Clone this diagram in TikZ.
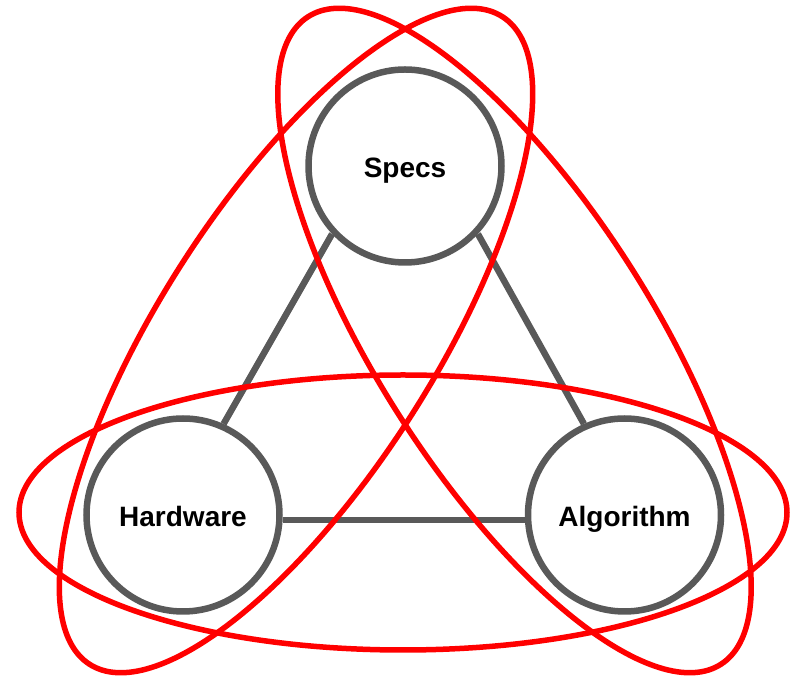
\documentclass[tikz,border=0pt]{standalone}
\usepackage{fontspec}
\setmainfont{Liberation Sans}
\definecolor{edgegray}{RGB}{89,89,89}
\begin{document}
\begin{tikzpicture}[x=1pt,y=1pt,
  topic/.style={circle,draw=edgegray,line width=6.5pt,fill=white,minimum size=193pt,inner sep=0pt,
    font=\fontsize{28}{30}\selectfont\bfseries,text height=23pt,text depth=0pt},
  link/.style={draw=edgegray,line width=6.5pt},
  loop/.style={draw=red,line width=5.5pt}]
\useasboundingbox (0,0) rectangle (796,680);
\node[topic] (specs) at (405,514) {Specs};
\node[topic] (hw) at (183,165) {Hardware};
\node[topic] (alg) at (624.5,165) {Algorithm};
\draw[link] (specs.223) -- (hw.66);
\draw[link] (specs.317) -- (alg.114);
\draw[link] (hw.-3.5) -- (alg.183.5);
\draw[loop] (403,167.5) ellipse [x radius=384, y radius=137.5];
\draw[loop,rotate around={57.5:(296,339.5)}] (296,339.5) ellipse [x radius=384, y radius=137.5];
\draw[loop,rotate around={-57.5:(514.5,339.5)}] (514.5,339.5) ellipse [x radius=384, y radius=137.5];
\end{tikzpicture}
\end{document}
